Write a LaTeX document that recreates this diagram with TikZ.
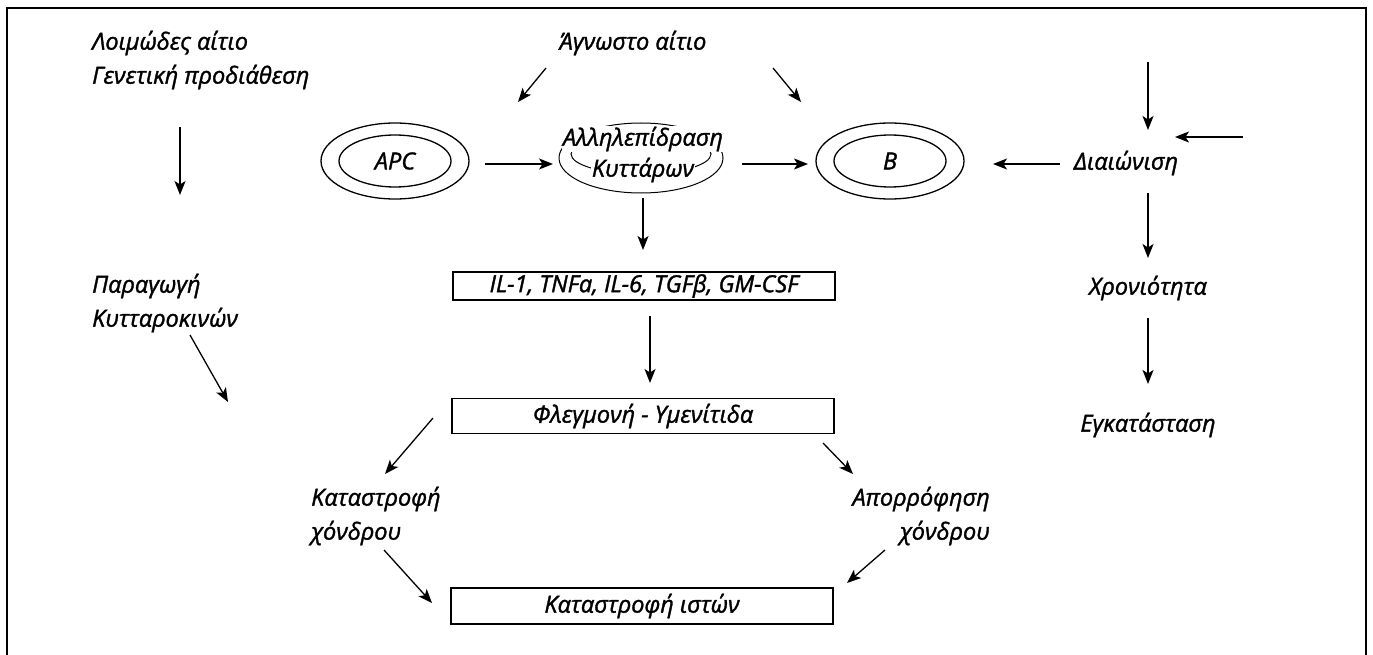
\documentclass[tikz,border=0pt]{standalone}
\usepackage{fontspec}
\setmainfont{Open Sans}[ItalicFeatures={FakeBold=1.5}]
\usetikzlibrary{arrows.meta,shapes.geometric}
\begin{document}
\begin{tikzpicture}[x=1pt,y=-1pt,
  txt/.style={font=\fontsize{23.5}{34}\selectfont\itshape, inner sep=0pt},
  arr/.style={-{Stealth[length=14pt,width=11pt,inset=3.5pt]}, line width=1.3pt},
  boxn/.style={draw, line width=1.3pt, minimum width=382pt, font=\fontsize{23.5}{34}\selectfont\itshape, inner sep=0pt},
  ell/.style={draw, ellipse, line width=1.3pt, inner sep=0pt}
]
\useasboundingbox (0,0) rectangle (1373,655);
% frame
\draw[line width=2pt] (7,655) -- (7,8) -- (1366,8) -- (1366,655);

% left column
\node[txt, anchor=west, align=left] (loim) at (92,60) {Λοιμώδες αίτιο\\Γενετική προδιάθεση};
\node[txt, anchor=west, align=left] (parag) at (92,303) {Παραγωγή\\Κυτταροκινών};
\coordinate (l1s) at (180,127); \coordinate (l1e) at (180,195);
\draw[arr] (l1s) -- (l1e);
\coordinate (l2s) at (190,335); \coordinate (l2e) at (228,402);
\draw[arr] (l2s) -- (l2e);

% top
\node[txt] (agn) at (633,43) {Άγνωστο αίτιο};
\coordinate (t1s) at (546,68); \coordinate (t1e) at (518,102);
\coordinate (t2s) at (773,68); \coordinate (t2e) at (801,102);
\draw[arr] (t1s) -- (t1e);
\draw[arr] (t2s) -- (t2e);

% APC
\node[ell, minimum width=148pt, minimum height=76pt] (apcout) at (395,161) {};
\node[ell, minimum width=112pt, minimum height=52pt, font=\fontsize{23.5}{34}\selectfont\itshape] (apc) at (395,161) {APC};
% B
\node[ell, minimum width=148pt, minimum height=76pt] (bout) at (890,161) {};
\node[ell, minimum width=112pt, minimum height=52pt, font=\fontsize{23.5}{34}\selectfont\itshape] (b) at (890,161) {B};

% interaction
\node[ell, line width=1pt, minimum width=164pt, minimum height=70pt] (allout) at (641,158) {};
\node[ell, line width=1pt, minimum width=140pt, minimum height=40pt] (allin) at (641,154) {};
\node[txt, fill=white, inner sep=0.5pt] (all1) at (643,139) {Αλληλεπίδραση};
\node[txt, fill=white, inner sep=0.5pt] (all2) at (643,170) {Κυττάρων};

\coordinate (h1s) at (485,164); \coordinate (h1e) at (553,164);
\draw[arr] (h1s) -- (h1e);
\coordinate (h2s) at (742,164); \coordinate (h2e) at (808,164);
\draw[arr] (h2s) -- (h2e);

% right column
\node[txt] (diai) at (1126,163) {Διαιώνιση};
\node[txt] (xron) at (1148,288) {Χρονιότητα};
\node[txt] (egk) at (1148,425) {Εγκατάσταση};
\coordinate (r1s) at (1060,164); \coordinate (r1e) at (993,164);
\draw[arr] (r1s) -- (r1e);
\coordinate (r2s) at (1148,62); \coordinate (r2e) at (1148,130);
\draw[arr] (r2s) -- (r2e);
\coordinate (r3s) at (1243,137); \coordinate (r3e) at (1175,137);
\draw[arr] (r3s) -- (r3e);
\coordinate (r4s) at (1148,193); \coordinate (r4e) at (1148,258);
\draw[arr] (r4s) -- (r4e);
\coordinate (r5s) at (1148,318); \coordinate (r5e) at (1148,384);
\draw[arr] (r5s) -- (r5e);

% centre column
\node[boxn, minimum height=28pt] (il) at (644,286) {IL-1, TNFa, IL-6, TGFβ, GM-CSF};
\node[boxn, minimum height=35pt] (fleg) at (643,416) {Φλεγμονή - Υμενίτιδα};
\node[boxn, minimum height=36pt] (kat) at (642,606) {Καταστροφή ιστών};
\coordinate (c1s) at (643,198); \coordinate (c1e) at (643,250);
\draw[arr] (c1s) -- (c1e);
\coordinate (c2s) at (650,316); \coordinate (c2e) at (650,383);
\draw[arr] (c2s) -- (c2e);

\node[txt, anchor=west, align=left] (katx) at (311,516) {Καταστροφή\\χόνδρου};
\node[txt, anchor=east, align=right] (apor) at (990,516) {Απορρόφηση\\χόνδρου};
\coordinate (d1s) at (433,418); \coordinate (d1e) at (385,474);
\draw[arr] (d1s) -- (d1e);
\coordinate (d2s) at (823,443); \coordinate (d2e) at (853,474);
\draw[arr] (d2s) -- (d2e);
\coordinate (d3s) at (384,550); \coordinate (d3e) at (432,603);
\draw[arr] (d3s) -- (d3e);
\coordinate (d4s) at (885,550); \coordinate (d4e) at (847,583);
\draw[arr] (d4s) -- (d4e);
\end{tikzpicture}
\end{document}
